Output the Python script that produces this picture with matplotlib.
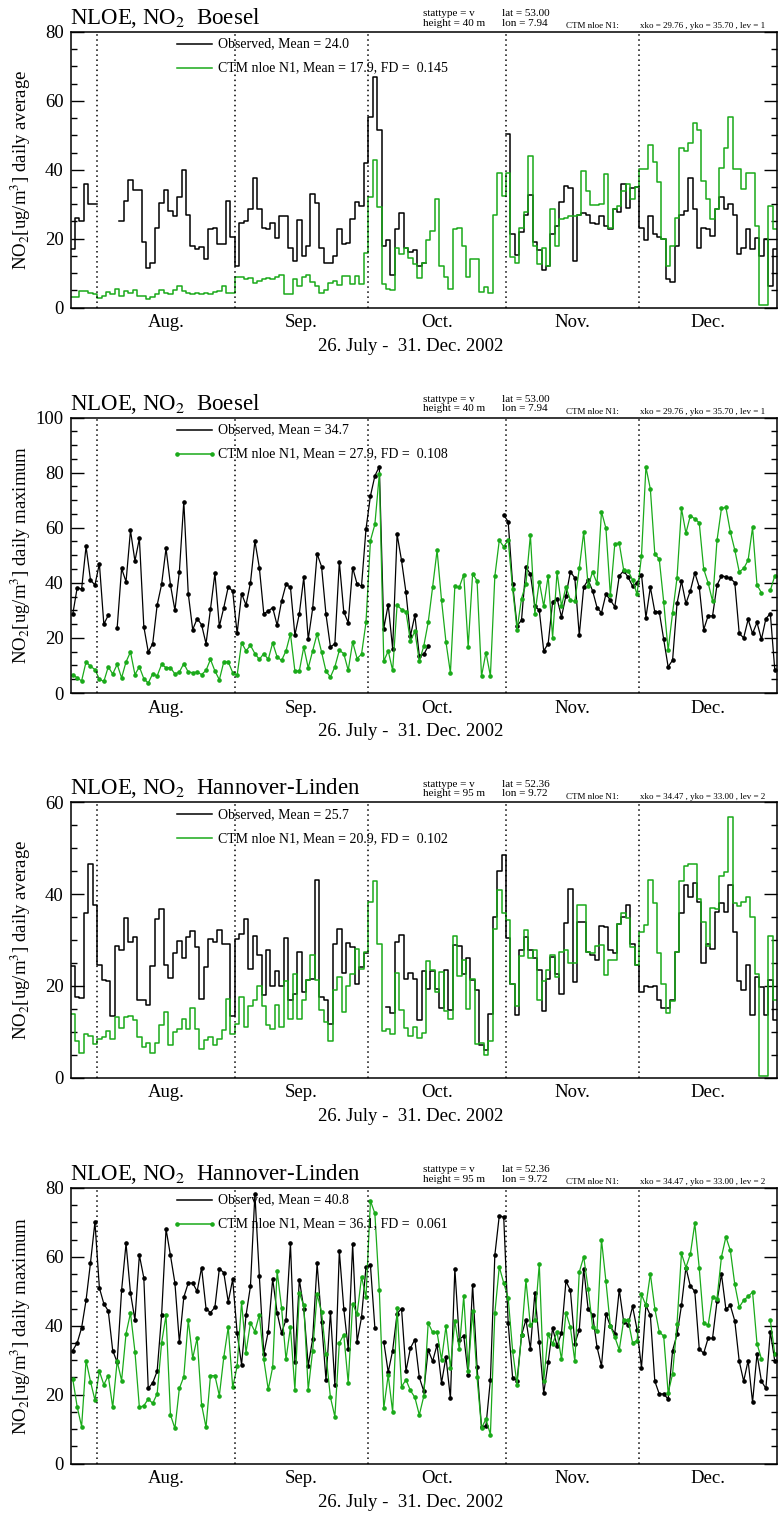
import numpy as np
import matplotlib
matplotlib.use('Agg')
import matplotlib.pyplot as plt
from matplotlib.ticker import MultipleLocator

plt.rcParams['font.family'] = ['Liberation Serif', 'DejaVu Serif']
plt.rcParams['mathtext.fontset'] = 'stix'

nan = np.nan

# day index counted from 26 July 2002 (0) to 31 Dec 2002 (158)
n_days = 159
month_starts = [6, 37, 67, 98, 128]
month_names = ['Aug.', 'Sep.', 'Oct.', 'Nov.', 'Dec.']
period_label = '26. July -  31. Dec. 2002'

# --- Boesel, daily average ---
obs_avg_boesel = [
    17, 26, 25, 36, 30, 30, nan, nan, nan, nan, nan,
    25, 31, 37, 34, 34, 19, 11.6, 13, 23, 30.4,
    34, 28, 26.5, 32, 40, 27, 18, 17, 17.7, 14,
    22.7, 23, 18.3, 18.5, 31, 20.5, 12, 24.4, 25, 28.5,
    37.5, 28.7, 23, 22.7, 24.6, 20.3, 26.5, 26.7, 17.4, 13.5,
    25.4, 15, 17.9, 33, 30.4, 17.4, 13, 13, 15, 22.7,
    18.3, 18.8, 25.6, 30.6, 29.4, 42, 55.3, 67, 51.6, 17.9,
    19.6, 9.4, 22.7, 27.5, 17.4, 16, 16.7, 12, 13,
    nan, nan, nan, nan, nan, nan, nan, nan, nan, nan, nan, nan, nan, nan, nan, nan, nan, nan,
    50.3, 21.3, 15.2, 21.8, 27, 32.8, 18.9, 16.7, 11, 12,
    21.3, 23.7, 30.5, 35.3, 34.6, 13.5, 26.8, 27.4, 26.8, 24.5,
    24.2, 26.6, 23.7, 22.7, 28.5, 27.6, 35.8, 29, 34.6, 35,
    23.2, 19.7, 26.6, 21.3, 20.6, 19.8, 8.2, 7.3, 17.9, 27,
    28, 37.7, 28.7, 17.4, 23, 22.7, 20.8, 28.5, 32, 28.7,
    30, 27, 15.5, 17.4, 22.7, 17, 20.3, 15, 20, 6.3, 17]
mod_avg_boesel = [
    3.1, 3.1, 4.8, 4.8, 4.3, 3.9, 2.9, 3.4, 4.5, 3.9,
    5.3, 3.4, 4.8, 4.3, 5.1, 3.4, 3.2, 2.4, 3.1, 3.9,
    5.1, 4.3, 3.9, 5.1, 6.3, 4.8, 4.3, 3.9, 4.1, 3.9,
    4.2, 3.9, 4.5, 4.8, 6.1, 4.3, 4.3, 8.9, 8.9, 8.2,
    8.7, 7, 7.7, 8.2, 8.5, 8.4, 9, 9.4, 3.9, 3.9,
    8.2, 6.3, 9, 9.4, 7.4, 6.3, 4.2, 5.1, 7, 7.7,
    6.5, 9.2, 9.2, 6.8, 9.2, 6.8, 15.7, 32, 42.8, 29.3,
    6.8, 5.3, 5.1, 17.4, 15.4, 17.4, 14.5, 12.6, 8.7, 13,
    19.6, 22.3, 31.5, 12, 9, 5.5, 22.7, 23.1, 18, 8.9,
    14, 14, 4.4, 6, 4.2, 27, 39, 32.4, 39, 14.7,
    13, 23.2, 27.6, 44, 17.9, 12.6, 17.4, 12, 28.7, 18,
    25.6, 26, 26.6, 26.6, 27, 39.6, 33.8, 29.7, 29.7, 30,
    38.7, 23, 28.5, 29.5, 33.8, 35.8, 31.5, 35, 40.3, 40.3,
    47.2, 42.2, 36.3, 19.8, 12, 17.9, 26, 46.4, 45.5, 47.7,
    53.5, 51.5, 36.8, 31.5, 25.6, 28.5, 40.5, 46.4, 55.2, 40.2,
    40.2, 34.4, 39.2, 39.2, 23.7, 0.7, 0.7, 29.5, 22.7]

# --- Boesel, daily maximum ---
obs_max_boesel = [
    28.5, 38.2, 37.7, 53.2, 41, 39.2, 47, 25, 28.2, nan,
    23.6, 45.2, 40.4, 59, 47.9, 56.1, 24.1, 14.9, 17.9, 31.9,
    39.4, 52.5, 39.2, 30, 44, 69.5, 36.1, 23, 27, 24.8,
    17.9, 30.4, 43.4, 24.2, 31, 38.5, 37, 21.6, 36.1, 31.9,
    40, 55.2, 45.5, 28.8, 29.7, 31, 24.6, 33.3, 39.4, 38.4,
    21, 28.8, 42, 19.5, 30.7, 50.5, 45.9, 28.5, 16.7, 17.9,
    47.6, 29.5, 25.5, 45.5, 39.5, 38.9, 59.5, 71.5, 78.8, 82.2,
    23.4, 32.1, 16.1, 57.6, 48.1, 36.5, 20.7, 28.2, 13.5, 14,
    17, nan, nan, nan, nan, nan, nan, nan, nan, nan, nan, nan, nan, nan, nan, nan, nan,
    64.6, 62.2, 39.5, 24.4, 26.4, 45.6, 43.2, 31.6, 30, 15.3,
    17.9, 33.1, 34.3, 27.6, 35.3, 44, 41.8, 21, 38.5, 41,
    37.1, 31, 29.1, 35.9, 33.7, 31.3, 42.5, 44.4, 42, 38.8,
    40, 43, 27.4, 38.4, 29.5, 29.5, 19.5, 9.5, 11.9, 32.5,
    40.6, 32.5, 37.1, 43.6, 38.5, 23, 28, 28, 39.2, 42.5,
    42.2, 41.6, 40.1, 21.6, 20, 26.7, 21.6, 25.6, 19.5, 27,
    28.8, 8.5]
mod_max_boesel = [
    6.7, 5.5, 4.4, 11.3, 9.7, 8.5, 5, 4.2, 9.5, 6.9,
    10.4, 5.5, 11.3, 14.9, 6.7, 9.5, 5.2, 3.6, 7, 6.2,
    10.4, 9.2, 9.2, 6.9, 7.6, 10.7, 7.6, 7.4, 7.6, 6.7,
    8.2, 12.2, 8, 4.8, 11.3, 11.3, 7.4, 6.4, 18.3, 15.3,
    17.3, 14.3, 12.2, 14.3, 12.2, 18.2, 13.1, 11.8, 15.3, 21.5,
    8, 8, 16.7, 9.1, 15.3, 21.5, 14.9, 7.9, 5.8, 9.5,
    15.5, 14.3, 8.2, 18.5, 12.5, 14.1, 25.6, 55.3, 61.2, 79.4,
    11.5, 15.3, 8.2, 31.9, 30.3, 29.5, 18.8, 22.4, 11.5, 17,
    25.6, 38.5, 51.8, 33.7, 18.5, 7.3, 38.7, 38.4, 43, 16.8,
    43.3, 40.7, 6.1, 14.7, 6.2, 42.4, 55.4, 53.1, 55.5, 37.9,
    23, 34.3, 39.6, 57.3, 28.7, 40.4, 31.5, 42.5, 20.1, 43.8,
    31.5, 38.5, 33.7, 33.3, 45.2, 58.4, 38.8, 44, 39.8, 65.8,
    59.8, 35.5, 54.1, 54.3, 44.6, 44.4, 41, 35.8, 49.8, 82,
    74, 50.5, 48.6, 33.1, 15.5, 29.1, 41.8, 67, 58, 64.4,
    63.2, 61.8, 45, 40, 33.3, 55.4, 67, 67.4, 58.5, 51.9,
    44, 45.2, 48.2, 60.1, 39.2, 36.4, nan, 37.3, 42.5]

# --- Hannover-Linden, daily average ---
obs_avg_hann = [
    24.3, 17.7, 17.4, 35.9, 46.5, 37.6, 24.5, 21.4, 21, 13.4,
    28.7, 27.8, 34.8, 29.6, 30.7, 16.9, 16.9, 15.9, 24.3, 34.5,
    36.7, 24.5, 21.7, 27.2, 29.7, 26, 30.7, 31.9, 28.5, 17.1,
    24.1, 30.3, 29.5, 32.1, 29.2, 29.2, 13.4, 30.3, 31.3, 34.5,
    23.8, 30.8, 26.8, 18.1, 27.8, 19.9, 23.2, 19.9, 30.5, 16.9,
    18.2, 27.4, 18.7, 21.4, 21.6, 43, 17.6, 16.9, 11.8, 29.2,
    32.5, 22.8, 29.4, 28.5, 20.5, 24.1, 27.2, nan, nan, nan,
    nan, 15.4, 14.1, 29.6, 31.2, 21.6, 22.8, 21.6, 12.5, 23.2,
    19.3, 23.2, 19.4, 15.3, 23.4, 14.8, 28.9, 28.7, 22.7, 26,
    21.4, 19.1, 7.1, 6, 13.8, 35, 45, 48.5, 30.5, 20.5,
    13.7, 27.8, 30.7, 27.8, 26, 23.4, 14.5, 21.6, 26.2, 22.7,
    18.3, 33.7, 41.2, 20.9, 34, 34, 27.4, 26.7, 25.7, 33,
    32.9, 27.8, 27.2, 33.5, 35.1, 37.6, 29.1, 24.5, 18.7, 19.9,
    19.8, 20.1, 17, 15.1, 15.1, 16.9, 27.4, 35.8, 42, 39.4,
    42.5, 38.3, 25, 29.1, 28.1, 36.1, 38.1, 36.1, 42, 31.8,
    21.1, 19.1, 24.5, 13.7, 22, 19.8, 13.6, 21.4, 12.5]
mod_avg_hann = [
    14, 8, 5.4, 9.6, 9.2, 7.3, 8.5, 8.9, 10.3, 8.5,
    13.2, 10.8, 13.2, 13.5, 12.5, 8.9, 6.7, 7.6, 5.4, 7.6,
    11.4, 14.3, 7.2, 10, 10.7, 12.9, 10.7, 15.3, 10.7, 6.3,
    8.3, 8.9, 7.2, 8.5, 10.5, 17.2, 9.5, 11.8, 17.6, 11,
    15.6, 16.9, 20.1, 15.7, 11.4, 10.7, 15.9, 11, 21.1, 12.9,
    22.5, 12.9, 16.9, 21.4, 26.7, 21.2, 14.8, 12.1, 8, 19.2,
    22, 14.3, 19.9, 22.5, 28.1, 23.8, 27.4, 38.3, 42.9, 29.2,
    10.3, 10.7, 9.6, 22.8, 14.7, 10.9, 9, 11, 8.7, 9.8,
    25.5, 23.4, 18.7, 23, 14.5, 12.9, 30.8, 22.2, 25.6, 15,
    21.6, 7.4, 7.6, 4.9, 8.1, 32.3, 40.9, 35.9, 34.3, 20.5,
    15.6, 26.5, 32.1, 26, 27.9, 17, 21.1, 23.4, 26.8, 22,
    27.4, 27.8, 25, 25, 37.6, 37.6, 27.4, 27.2, 28.7, 28.9,
    22.3, 25.7, 25.6, 33.5, 35.9, 34.9, 28.5, 24.5, 31.8, 33.2,
    43, 38, 27.1, 20.5, 14.1, 16.7, 27.4, 42.8, 46.2, 46.5,
    46.5, 39, 34, 28.7, 36.9, 36.7, 43.9, 44.9, 56.9, 38.1,
    37.4, 38.3, 39.4, 35.1, 22.7, 0.3, 0.3, 30.8, 17]

# --- Hannover-Linden, daily maximum ---
obs_max_hann = [
    32.8, 35, 39.4, 47.4, 58.3, 70.1, 51, 46.4, 44.3, 32.8,
    29.4, 50.3, 63.9, 49.5, 41.7, 60.5, 53.9, 21.8, 23.4, 26.8,
    43, 68.1, 60.4, 52.4, 35.2, 48.3, 52.4, 52.4, 50, 56.9,
    45, 43.8, 45.4, 56.6, 55.4, 46.9, 53.5, 37.9, 28.7, 43,
    51.5, 78.3, 54.4, 31.8, 38.3, 53.6, 43.8, 37.9, 41.8, 63.9,
    29.4, 53.4, 45, 28.4, 36.2, 58.1, 41.1, 24.3, 44, 22.8,
    61.7, 45, 33.3, 63.6, 35.4, 42.5, 57.1, 57.6, 39.4, nan,
    35.4, 26.5, 32.8, 43.5, 45, 26.8, 33.5, 36, 25, 21,
    33, 29.7, 34.5, 23.4, 30.9, 18.9, 56.6, 36, 37.1, 25.8,
    51.9, 28, 10.5, 10.9, 24.3, 60.5, 72, 71.5, 40.8, 24.9,
    24.1, 37.2, 41.8, 33.3, 49.5, 35.2, 20.4, 29.4, 39.3, 34.2,
    37.9, 52.9, 50.3, 34.8, 38.8, 56.6, 44.8, 43.2, 33.8, 28.3,
    43.5, 39.9, 37.7, 50.5, 41.1, 40.3, 45.6, 38.9, 27.8, 45.9,
    43, 23.9, 20.2, 20.2, 18.7, 32.8, 37.5, 45.9, 56.9, 51.5,
    50, 33.3, 32, 36.4, 36.4, 47.1, 55, 44.8, 45.9, 41.4,
    29.7, 23.9, 29.9, 17.8, 31.8, 23.9, 21.8, 38.3, 29.7]
mod_max_hann = [
    24.6, 16.5, 10.7, 29.9, 23.8, 18.4, 26.8, 22.9, 25.5, 16.3,
    29.7, 24.1, 37.7, 43.7, 32.5, 16.3, 16.8, 18.7, 17.5, 20.2,
    35, 43, 14.1, 10.2, 21.8, 25.2, 41.6, 30.6, 36.4, 17.1,
    10.5, 25.5, 25.5, 19.7, 30.9, 39.6, 22.1, 28.2, 46.9, 32.2,
    40.9, 38.3, 43.2, 30.2, 21.5, 28, 55.9, 45.2, 30.2, 39.6,
    21.4, 49.5, 45.9, 21.4, 32.8, 49.1, 44, 31.7, 19.2, 13.6,
    35, 37.4, 23.4, 46.4, 43.3, 54.2, 48.3, 76.3, 72.6, 50.3,
    16, 25.7, 15, 45.1, 22.3, 24.3, 21.2, 19.2, 14.1, 19.5,
    40.8, 38.1, 38.1, 30.1, 39.8, 27.8, 41.4, 33.2, 48.6, 27,
    44.3, 25, 10.3, 12.9, 8.4, 43.7, 57.1, 52.4, 48.1, 32.8,
    22.9, 37.2, 53.2, 40.1, 41.7, 57.9, 24.1, 37.5, 34.8, 38.2,
    30.2, 43.8, 39.6, 29.7, 55.6, 60, 50.8, 39.6, 38.6, 65,
    52.9, 39.9, 36.7, 33, 41.6, 41.7, 35, 35.7, 49.1, 45.9,
    55.1, 45, 38.2, 37, 20.5, 26, 40.6, 61, 56.9, 60.8,
    69.7, 56.8, 40.8, 40.1, 48.3, 47.9, 60, 65.8, 61.9, 52,
    45.4, 47.4, 48.5, 49.8, 34.8, 30.4, nan, 41.6, 31.7]

obs_means = ['24.0', '34.7', '25.7', '40.8']
mod_means = ['17.9', '27.9', '20.9', '36.1']
fd_values = ['0.145', '0.108', '0.102', '0.061']

W, H = 780, 1517
GREEN = '#1aaa1a'

fig = plt.figure(figsize=(W / 100, H / 100), dpi=100)


def fx(px):
    return px / W


def fy(py):
    return 1 - py / H


def draw_panel(top, obs, mod, kind, ymax, station, ylabel, info, k):
    left, right, bottom = 70.5, 777, top + 275.5
    ax = fig.add_axes([fx(left), fy(bottom), (right - left) / W, (bottom - top) / H])
    obs = np.array(obs, dtype=float)
    mod = np.array(mod, dtype=float)
    assert len(obs) == n_days and len(mod) == n_days

    if kind == 'step':
        edges = np.arange(n_days + 1)
        ax.step(edges, np.append(obs, obs[-1]), where='post', color='black', lw=1.1)
        ax.step(edges, np.append(mod, mod[-1]), where='post', color=GREEN, lw=1.1)
    else:
        x = np.arange(n_days) + 0.5
        ax.plot(x, obs, '-o', color='black', lw=0.9, ms=2.3)
        ax.plot(x, mod, '-o', color=GREEN, lw=0.9, ms=2.3)

    for m in month_starts:
        ax.axvline(m, color='black', lw=1.1, ls=(0, (1, 2.3)))

    ax.set_xlim(0, n_days)
    ax.set_ylim(0, ymax)
    ax.set_xticks([])
    ax.yaxis.set_major_locator(MultipleLocator(20))
    ax.yaxis.set_minor_locator(MultipleLocator(5))
    ax.tick_params(axis='y', which='both', direction='in', left=True, right=True,
                   labelsize=13.5, pad=5, width=1)
    ax.tick_params(axis='y', which='major', length=9.5)
    ax.tick_params(axis='y', which='minor', length=4.5)
    for s in ax.spines.values():
        s.set_linewidth(1.1)
    ax.set_ylabel(ylabel, fontsize=13.5)
    ax.yaxis.set_label_coords((33 - left) / (right - left), 0.5)

    # month names and period under the axis
    starts = month_starts + [n_days]
    for i, name in enumerate(month_names):
        mid = (starts[i] + starts[i + 1]) / 2
        ax.text(mid, -15 / 275.5, name, transform=ax.get_xaxis_transform(),
                ha='center', va='center', fontsize=13.5)
    fig.text(fx(411), fy(bottom + 39), period_label, ha='center', va='center', fontsize=13.5)

    # title and station info
    fig.text(fx(70.5), fy(top - 8), 'NLOE, NO$_2$  ' + station, fontsize=16.5, va='baseline')
    lat, lon, height, xko, yko, lev = info
    fig.text(fx(423), fy(top - 18), 'stattype = v', fontsize=8, va='center')
    fig.text(fx(423), fy(top - 9), 'height = %s m' % height, fontsize=8, va='center')
    fig.text(fx(502), fy(top - 18), 'lat = %s' % lat, fontsize=8, va='center')
    fig.text(fx(502), fy(top - 9), 'lon = %s' % lon, fontsize=8, va='center')
    fig.text(fx(566), fy(top - 5.5), 'CTM nloe N1:', fontsize=6.5, va='center')
    fig.text(fx(640), fy(top - 5.5), 'xko = %s , yko = %s , lev = %s' % (xko, yko, lev),
             fontsize=6.5, va='center')

    # legend drawn by hand like the original
    y1, y2 = fy(top + 12), fy(top + 36)
    fig.lines.append(plt.Line2D([fx(177), fx(212)], [y1, y1], color='black', lw=1.1,
                                transform=fig.transFigure))
    marker = 'o' if kind == 'line' else None
    fig.lines.append(plt.Line2D([fx(177), fx(212)], [y2, y2], color=GREEN, lw=1.1,
                                marker=marker, ms=2.3, transform=fig.transFigure))
    fig.text(fx(218), y1, 'Observed, Mean = %s' % obs_means[k], fontsize=10, va='center')
    fig.text(fx(218), y2, 'CTM nloe N1, Mean = %s, FD =  %s' % (mod_means[k], fd_values[k]),
             fontsize=10, va='center')
    return ax


boesel = ('53.00', '7.94', '40', '29.76', '35.70', '1')
hann = ('52.36', '9.72', '95', '34.47', '33.00', '2')
lab_avg = 'NO$_2$[ug/m$^3$] daily average'
lab_max = 'NO$_2$[ug/m$^3$] daily maximum'

draw_panel(32, obs_avg_boesel, mod_avg_boesel, 'step', 80, 'Boesel', lab_avg, boesel, 0)
draw_panel(417.5, obs_max_boesel, mod_max_boesel, 'line', 100, 'Boesel', lab_max, boesel, 1)
draw_panel(802.3, obs_avg_hann, mod_avg_hann, 'step', 60, 'Hannover-Linden', lab_avg, hann, 2)
draw_panel(1188, obs_max_hann, mod_max_hann, 'line', 80, 'Hannover-Linden', lab_max, hann, 3)

fig.savefig('out.png', dpi=100)
